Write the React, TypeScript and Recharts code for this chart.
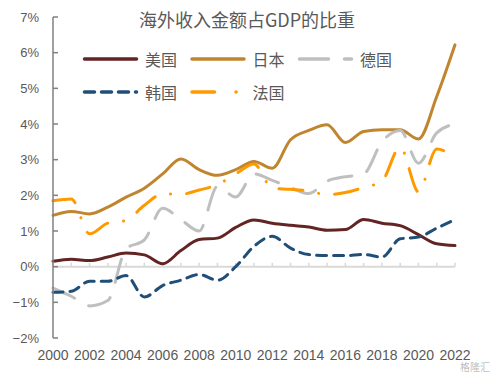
import { LineChart, Line, XAxis, YAxis, ReferenceLine, Legend } from "recharts";

const YEARS = [2000, 2001, 2002, 2003, 2004, 2005, 2006, 2007, 2008, 2009, 2010, 2011, 2012, 2013, 2014, 2015, 2016, 2017, 2018, 2019, 2020, 2021, 2022];
const US = [0.15, 0.21, 0.17, 0.27, 0.38, 0.33, 0.08, 0.45, 0.76, 0.8, 1.1, 1.31, 1.22, 1.16, 1.11, 1.02, 1.04, 1.32, 1.22, 1.15, 0.9, 0.64, 0.59];
const JP = [1.44, 1.55, 1.48, 1.67, 1.95, 2.2, 2.6, 3.02, 2.72, 2.56, 2.72, 2.95, 2.76, 3.56, 3.82, 3.98, 3.48, 3.79, 3.84, 3.84, 3.58, 4.77, 6.22];
const DE = [-0.6, -0.83, -1.1, -0.95, 0.5, 0.75, 1.64, 1.32, 1.0, 2.25, 1.95, 2.6, 2.42, 2.22, 2.05, 2.4, 2.52, 2.6, 3.5, 3.82, 2.9, 3.75, 4.0];
const KR = [-0.72, -0.69, -0.41, -0.41, -0.25, -0.85, -0.53, -0.38, -0.22, -0.38, 0.0, 0.57, 0.85, 0.52, 0.34, 0.31, 0.31, 0.34, 0.27, 0.78, 0.83, 1.08, 1.32];
const FR = [1.85, 1.9, 0.92, 1.22, 1.3, 1.72, 2.04, 2.03, 2.15, 2.3, 2.6, 2.88, 2.2, 2.17, 2.12, 2.02, 2.08, 2.22, 2.4, 3.35, 2.1, 3.3, 3.05];

const Y_TICKS = [-2, -1, 0, 1, 2, 3, 4, 5, 6, 7];
const X_TICKS = [2000, 2002, 2004, 2006, 2008, 2010, 2012, 2014, 2016, 2018, 2020, 2022];

const data = YEARS.map((year, i) => ({ year, us: US[i], jp: JP[i], de: DE[i], kr: KR[i], fr: FR[i] }));

const SERIES = [
  { key: "us", name: "美国", color: "#632523", dash: undefined, legendDash: undefined },
  { key: "jp", name: "日本", color: "#C0852F", dash: undefined, legendDash: undefined },
  { key: "de", name: "德国", color: "#BFBFBF", dash: "24 16", legendDash: "29 16" },
  { key: "kr", name: "韩国", color: "#1F4E79", dash: "10 7", legendDash: "10 7" },
  { key: "fr", name: "法国", color: "#FF9900", dash: "24 16 0.1 16", legendDash: "22.5 21.5 0.1 100" },
];

const TEXT = "#595959";
const CJK = "'Noto Sans CJK SC', 'Noto Sans', sans-serif";

const fmtPct = (v: number) => (v < 0 ? `−${-v}%` : `${v}%`);

const YTick = ({ x, y, payload }: any) => (
  <g>
    <line x1={x} x2={x + 5} y1={y} y2={y} stroke="#808080" strokeWidth={1.5} />
    <text
      x={x - 14}
      y={y}
      textAnchor="end"
      dominantBaseline="central"
      fill={TEXT}
      fontSize={13}
      fontFamily="'Liberation Sans Narrow', 'Arial Narrow', 'Liberation Sans', sans-serif"
    >
      {fmtPct(payload.value)}
    </text>
  </g>
);

const LegendBox = () => (
  <svg width={494} height={110}>
    {SERIES.map((s, i) => {
      const lx = 83 + (i % 3) * 107.5;
      const ly = 59 + Math.floor(i / 3) * 33;
      return (
        <g key={s.key}>
          <line
            x1={lx + 1.5}
            x2={lx + 53.5}
            y1={ly}
            y2={ly}
            stroke={s.color}
            strokeWidth={3.5}
            strokeLinecap="round"
            strokeDasharray={s.legendDash}
          />
          <text x={lx + 62} y={ly} dominantBaseline="central" fill={TEXT} fontSize={16} fontFamily={CJK}>
            {s.name}
          </text>
        </g>
      );
    })}
  </svg>
);

export default function App() {
  return (
    <div style={{ position: "absolute", left: 0, top: 0, width: 494, height: 373, background: "#fff" }}>
      <LineChart width={494} height={373} data={data} margin={{ top: 17, right: 39, bottom: 0, left: 0 }}>
        <XAxis
          dataKey="year"
          type="number"
          domain={[2000, 2022]}
          ticks={X_TICKS}
          interval={0}
          axisLine={false}
          tickLine={false}
          tickSize={0}
          tickMargin={12}
          height={35}
          tick={{ fill: TEXT, fontSize: 14, fontFamily: "'Liberation Sans', sans-serif" }}
        />
        <YAxis
          type="number"
          domain={[-2, 7]}
          ticks={Y_TICKS}
          interval={0}
          width={53}
          tickLine={false}
          tickSize={0}
          tickMargin={0}
          axisLine={{ stroke: "#808080", strokeWidth: 1.5 }}
          tick={<YTick />}
        />
        <ReferenceLine y={0} stroke="#D9D9D9" strokeWidth={2} />
        {YEARS.map((yr) => (
          <ReferenceLine
            key={yr}
            segment={[{ x: yr, y: 0 }, { x: yr, y: 0.11 }]}
            stroke="#D9D9D9"
            strokeWidth={1.5}
          />
        ))}
        <Legend
          verticalAlign="middle"
          align="center"
          layout="horizontal"
          content={<LegendBox />}
          wrapperStyle={{ position: "absolute", left: 0, top: 0, width: 494, height: 110 }}
        />
        {SERIES.map((s) => (
          <Line
            key={s.key}
            dataKey={s.key}
            name={s.name}
            type="monotone"
            stroke={s.color}
            strokeWidth={3}
            strokeLinecap="round"
            strokeDasharray={s.dash}
            dot={false}
            activeDot={false}
            isAnimationActive={false}
          />
        ))}
      </LineChart>
      <div
        style={{
          position: "absolute",
          left: 0,
          top: 9,
          width: 494,
          textAlign: "center",
          fontFamily: CJK,
          fontSize: 18,
          lineHeight: "20px",
          color: TEXT,
        }}
      >
        海外收入金额占GDP的比重
      </div>
      <div
        style={{
          position: "absolute",
          right: 4,
          top: 361,
          fontFamily: CJK,
          fontSize: 10,
          lineHeight: "11px",
          color: "rgba(160,160,160,0.7)",
        }}
      >
        格隆汇
      </div>
    </div>
  );
}
